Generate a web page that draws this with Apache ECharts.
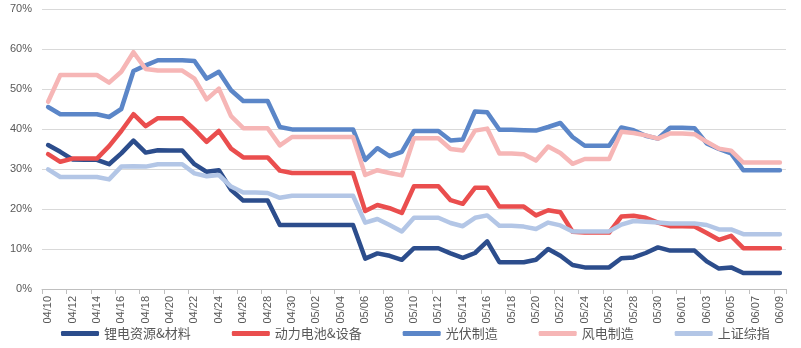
<!DOCTYPE html>
<html>
<head>
<meta charset="utf-8">
<script src="https://cdn.jsdelivr.net/npm/echarts@6/dist/echarts.min.js"></script>
<style>
html,body{margin:0;padding:0;background:#fff;}
#chart{width:801px;height:348px;}
</style>
</head>
<body>
<div id="chart"></div>
<script>
const dates = [
 "04/10","04/11","04/12","04/13","04/14","04/15","04/16","04/17","04/18","04/19","04/20",
 "04/21","04/22","04/23","04/24","04/25","04/26","04/27","04/28","04/29","04/30",
 "05/01","05/02","05/03","05/04","05/05","05/06","05/07","05/08","05/09","05/10",
 "05/11","05/12","05/13","05/14","05/15","05/16","05/17","05/18","05/19","05/20",
 "05/21","05/22","05/23","05/24","05/25","05/26","05/27","05/28","05/29","05/30","05/31",
 "06/01","06/02","06/03","06/04","06/05","06/06","06/07","06/08","06/09"
];
const seriesNames = ["锂电资源&材料","动力电池&设备","光伏制造","风电制造","上证综指"];
const lithium = [36.0,34.3,32.4,32.3,32.3,31.2,33.9,37.1,34.1,34.7, 34.6,34.6,31.2,29.3,29.7,24.8,22.1,22.1,22.1,16.0, 16.0,16.0,16.0,16.0,16.0,16.0,7.6,8.9,8.3,7.3, 10.2,10.2,10.2,8.9,7.8,9.0,11.9,6.7,6.7,6.7, 7.3,10.0,8.3,6.0,5.4,5.4,5.4,7.7,7.9,9.0, 10.4,9.6,9.6,9.6,6.9,5.1,5.4,4.0,4.0,4.0,4.0];
const battery = [33.7,31.8,32.6,32.6,32.6,35.7,39.5,43.7,40.7,42.7, 42.7,42.7,39.9,36.8,39.5,35.1,32.9,32.9,32.9,29.6, 29.0,29.0,29.0,29.0,29.0,29.0,19.5,21.0,20.2,19.0, 25.7,25.7,25.7,22.2,21.3,25.3,25.3,20.6,20.6,20.6, 18.4,19.7,19.2,14.3,14.1,14.1,14.1,18.1,18.3,17.8, 16.6,15.7,15.7,15.6,14.0,12.3,13.3,10.2,10.2,10.2,10.2];
const solar = [45.5,43.7,43.7,43.7,43.7,43.0,45.0,54.5,55.9,57.2, 57.2,57.2,57.0,52.6,54.3,49.7,47.0,47.0,47.0,40.5, 39.9,39.9,39.9,39.9,39.9,39.9,32.3,35.2,33.2,34.3, 39.5,39.5,39.5,37.1,37.4,44.4,44.2,39.8,39.8,39.7, 39.6,40.5,41.5,38.0,35.8,35.8,35.8,40.4,39.7,38.3, 37.6,40.3,40.3,40.2,36.4,35.0,33.9,29.7,29.7,29.7,29.7];
const wind = [46.8,53.5,53.5,53.5,53.5,51.6,54.3,59.2,55.0,54.6, 54.6,54.6,52.6,47.4,50.1,43.2,40.2,40.2,40.2,35.9, 38.0,38.0,38.0,38.0,38.0,38.0,28.5,29.7,29.0,28.4, 37.7,37.7,37.7,35.0,34.6,39.6,40.1,33.9,33.9,33.7, 32.1,35.6,34.0,31.3,32.5,32.5,32.5,39.3,39.0,38.4, 37.6,38.9,38.9,38.7,36.8,35.1,34.6,31.6,31.6,31.6,31.6];
const shIndex = [29.9,28.0,28.0,28.0,28.0,27.4,30.6,30.7,30.6,31.2, 31.2,31.2,28.9,28.2,28.5,25.6,24.1,24.1,24.0,22.8, 23.3,23.3,23.3,23.3,23.3,23.3,16.6,17.5,16.0,14.4, 17.8,17.8,17.8,16.5,15.7,17.8,18.4,15.8,15.8,15.6, 15.0,16.6,15.9,14.4,14.4,14.4,14.4,16.1,17.0,16.8, 16.6,16.4,16.4,16.4,16.0,14.9,14.9,13.7,13.7,13.7,13.7];
const yTicks = {min: 0, max: 70, interval: 10};

const colors = ["#2c4d8c","#ea4e4e","#5b86c8","#f6b6b6","#b3c6e6"];
const allData = [lithium, battery, solar, wind, shIndex];

const chart = echarts.init(document.getElementById('chart'), null, {renderer:'canvas'});
chart.setOption({
  animation: false,
  color: colors,
  grid: {left: 42, right: 15, top: 9, bottom: 59, containLabel: false},
  legend: {
    left: 56, top: 322,
    itemWidth: 38, itemHeight: 5, itemGap: 41,
    icon: 'roundRect',
    textStyle: {color: '#595959', fontSize: 13, fontFamily: 'Noto Sans CJK SC'},
    data: seriesNames
  },
  xAxis: {
    type: 'category',
    data: dates,
    boundaryGap: true,
    axisLine: {lineStyle: {color: '#bfbfbf', width: 1}},
    axisTick: {show: true, interval: 1, length: 5, lineStyle: {color: '#bfbfbf'}},
    axisLabel: {interval: 1, rotate: 90, margin: 7, color: '#595959', fontSize: 11, fontFamily: 'Liberation Sans'},
    splitLine: {show: false}
  },
  yAxis: {
    type: 'value',
    min: yTicks.min, max: yTicks.max, interval: yTicks.interval,
    axisLine: {show: false},
    axisTick: {show: false},
    axisLabel: {formatter: '{value}%', color: '#595959', fontSize: 11, margin: 10, fontFamily: 'Liberation Sans'},
    splitLine: {lineStyle: {color: '#d9d9d9', width: 1}}
  },
  series: seriesNames.map((n, i) => ({
    name: n,
    type: 'line',
    data: allData[i],
    symbol: 'none',
    smooth: false,
    lineStyle: {width: 4.5, color: colors[i], cap: 'round', join: 'round'},
    itemStyle: {color: colors[i]}
  }))
});
</script>
</body>
</html>
